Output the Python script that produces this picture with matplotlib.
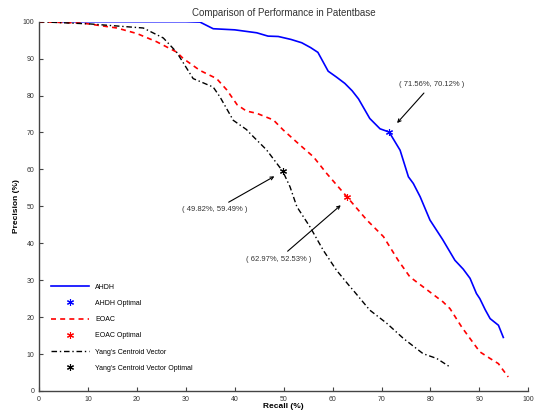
import matplotlib
matplotlib.use("Agg")
import matplotlib.pyplot as plt

plt.rcParams['font.family'] = ['Liberation Sans', 'DejaVu Sans']

# AHDH precision-recall curve
ahdh_recall = [3.9, 10, 20, 30, 32.9, 35.6, 40, 44.5, 46.8, 48.9, 51.5, 53.7, 55.5, 57.0,
               59.1, 60.8, 62.5, 64.0, 65.3, 67.6, 69.7, 71.56, 73.8, 75.5, 76.5, 77.9,
               79.9, 82.5, 85.0, 86.7, 88.1, 89.4, 90.1, 91.2, 92.2, 93.9, 94.9]
ahdh_prec = [100, 100, 100, 100, 99.9, 98.1, 97.8, 97.0, 96.1, 96.0, 95.2, 94.3, 93.0, 91.7,
             86.6, 85.0, 83.3, 81.3, 79.1, 73.8, 71.0, 70.12, 65.2, 58.0, 56.2, 52.6,
             46.3, 41.0, 35.4, 33.0, 30.5, 26.4, 25.0, 22.0, 19.6, 17.8, 14.5]

# EOAC precision-recall curve
eoac_recall = [0, 9.1, 15.9, 20.0, 24.0, 28.1, 29.5, 32.9, 36.3, 38.4, 40.5, 42.4, 44.5,
               47.9, 49.9, 53.0, 56.1, 58.8, 62.97, 67.0, 70.4, 73.4, 75.8, 79.9, 82.6,
               84.0, 86.4, 88.1, 90.1, 92.2, 93.9, 94.6, 95.9]
eoac_prec = [100, 99.6, 98.3, 96.8, 94.6, 91.8, 90.0, 86.8, 84.6, 81.5, 77.5, 75.8, 75.2,
             73.4, 70.7, 67.0, 63.4, 58.9, 52.53, 46.3, 41.8, 35.4, 30.9, 26.8, 24.1,
             22.3, 17.3, 14.2, 10.6, 8.8, 7.4, 6.1, 3.8]

# Yang's Centroid Vector precision-recall curve
yang_recall = [0, 10.4, 21.3, 25.4, 28.1, 31.5, 35.6, 37.0, 39.7, 42.4, 43.1, 46.5, 49.82,
               51.3, 52.7, 55.4, 58.1, 60.8, 63.6, 64.2, 67.6, 71.1, 74.5, 78.5, 81.3, 84.0]
yang_prec = [100, 99.4, 98.3, 95.6, 91.8, 84.6, 82.3, 79.6, 73.3, 70.8, 69.8, 65.3, 59.49,
             55.3, 49.9, 44.4, 38.1, 32.7, 28.2, 27.3, 21.9, 18.3, 14.2, 10.1, 8.8, 6.5]

optimal = {
    'AHDH': (71.56, 70.12),
    'EOAC': (62.97, 52.53),
    'Yang': (49.82, 59.49),
}

asterisk = (6, 2, 0)

fig = plt.figure(figsize=(5.36, 4.12), dpi=100)
ax = fig.add_axes([0.0728, 0.051, 0.9128, 0.8963])

ax.plot(ahdh_recall, ahdh_prec, color='#0000ff', lw=1.2, label='AHDH')
ax.plot(*optimal['AHDH'], ls='none', marker=asterisk, ms=5, mew=0.8, color='#0000ff',
        label='AHDH Optimal')
ax.plot(eoac_recall, eoac_prec, color='#ff0000', lw=1.2, ls=(0, (3, 2.5)), label='EOAC')
ax.plot(*optimal['EOAC'], ls='none', marker=asterisk, ms=5, mew=0.8, color='#ff0000',
        label='EOAC Optimal')
ax.plot(yang_recall, yang_prec, color='black', lw=1.0, ls=(0, (4, 2, 1, 2)),
        label="Yang's Centroid Vector")
ax.plot(*optimal['Yang'], ls='none', marker=asterisk, ms=5, mew=0.8, color='black',
        label="Yang's Centroid Vector Optimal")

arrow = dict(arrowstyle='->', color='black', lw=0.8)
ax.annotate('( 71.56%, 70.12% )', xy=(72.8, 72.0), xytext=(80.2, 82.0),
            arrowprops=arrow, fontsize=5.5, color='#333333', ha='center', va='bottom')
ax.annotate('( 49.82%, 59.49% )', xy=(48.6, 58.5), xytext=(36.0, 50.0),
            arrowprops=arrow, fontsize=5.5, color='#333333', ha='center', va='top')
ax.annotate('( 62.97%, 52.53% )', xy=(62.1, 50.8), xytext=(48.9, 36.6),
            arrowprops=arrow, fontsize=5.5, color='#333333', ha='center', va='top')

ax.set_xlim(0, 100)
ax.set_ylim(0, 100)
ax.set_xticks(range(0, 101, 10))
ax.set_yticks(range(0, 101, 10))
ax.tick_params(direction='in', labelsize=5, colors='#444444', length=3, width=0.8,
               labelcolor='#333333')
for s in ['top', 'right']:
    ax.spines[s].set_visible(False)
for s in ['left', 'bottom']:
    ax.spines[s].set_color('#444444')
    ax.spines[s].set_linewidth(1.0)

ax.set_xlabel('Recall (%)', fontsize=6, fontweight='bold', labelpad=0)
ax.set_ylabel('Precision (%)', fontsize=6, fontweight='bold', labelpad=2)
ax.set_title('Comparison of Performance in Patentbase', fontsize=7, color='#333333', pad=4)

ax.legend(loc='lower left', bbox_to_anchor=(0.012, 0.035), frameon=False, fontsize=5,
          handlelength=5.5, labelspacing=1.33, handletextpad=0.8, numpoints=1)

fig.savefig('out.png', dpi=100)
